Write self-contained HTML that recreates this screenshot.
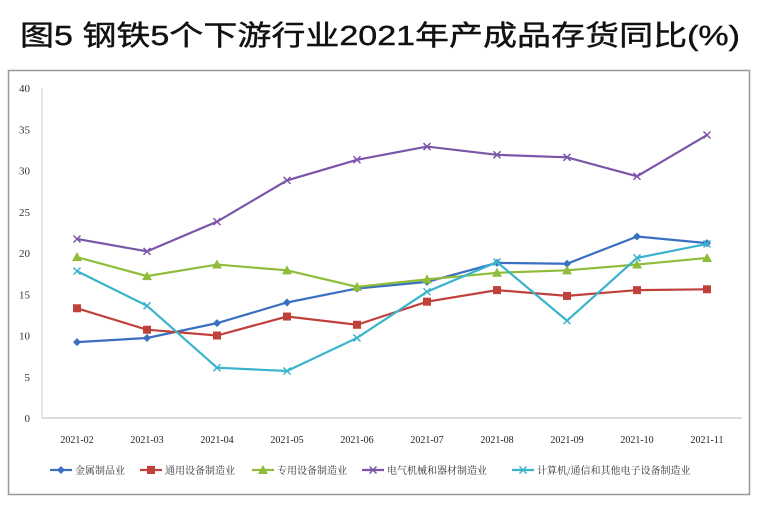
<!DOCTYPE html>
<html><head><meta charset="utf-8"><style>
body{margin:0;background:#fff;width:758px;height:501px;overflow:hidden;font-family:"Liberation Sans","Noto Sans CJK SC",sans-serif}
</style></head><body>
<svg id="s" width="758" height="501" xmlns="http://www.w3.org/2000/svg">
<text x="20" y="45" textLength="720" lengthAdjust="spacingAndGlyphs" font-family="Liberation Sans, Noto Sans CJK SC, sans-serif" font-size="28" fill="#111" stroke="#111" stroke-width="0.4">图5  钢铁5个下游行业2021年产成品存货同比(%)</text>
<rect x="8.5" y="70.5" width="741" height="424" fill="#fff" stroke="#999" stroke-width="1.5"/>
</svg>
<script>
const s=document.getElementById('s'),NS='http://www.w3.org/2000/svg';
function el(t,a,txt){const e=document.createElementNS(NS,t);for(const k in a)e.setAttribute(k,a[k]);if(txt!==undefined)e.textContent=txt;s.appendChild(e);return e;}
const Y=v=>418-v*8.25, X=i=>77+70*i;
for(let v=0;v<=40;v+=5){el('text',{x:30,y:Y(v)+4,'text-anchor':'end','font-size':11,fill:'#333','font-family':'Liberation Serif, serif'},v);}
el('line',{x1:42,y1:418,x2:742,y2:418,stroke:'#bbb'});
el('line',{x1:42,y1:88,x2:42,y2:418,stroke:'#ccc'});
const labs=['2021-02','2021-03','2021-04','2021-05','2021-06','2021-07','2021-08','2021-09','2021-10','2021-11'];
labs.forEach((l,i)=>el('text',{x:X(i),y:443,'text-anchor':'middle','font-size':10,fill:'#222','font-family':'Liberation Serif, serif'},l));
const ser=[
['#3a70c0','d',[9.2,9.7,11.5,14,15.7,16.5,18.8,18.7,22,21.2]],
['#c0403a','s',[13.3,10.7,10,12.3,11.3,14.1,15.5,14.8,15.5,15.6]],
['#8fbc3a','t',[19.5,17.2,18.6,17.9,15.9,16.8,17.6,17.9,18.6,19.4]],
['#7a55a8','x',[21.7,20.2,23.8,28.8,31.3,32.9,31.9,31.6,29.3,34.3]],
['#3ab4cc','x',[17.8,13.6,6.1,5.7,9.7,15.3,18.9,11.8,19.4,21.1]]];
function mark(c,m,x,y){
 if(m=='d')el('path',{d:`M${x} ${y-4}L${x+4} ${y}L${x} ${y+4}L${x-4} ${y}Z`,fill:c});
 else if(m=='s')el('rect',{x:x-4,y:y-4,width:8,height:8,fill:c});
 else if(m=='t')el('path',{d:`M${x} ${y-5}L${x+5} ${y+4}L${x-5} ${y+4}Z`,fill:c});
 else el('path',{d:`M${x-3.5} ${y-3.5}L${x+3.5} ${y+3.5}M${x+3.5} ${y-3.5}L${x-3.5} ${y+3.5}`,stroke:c,'stroke-width':1.5});
}
ser.forEach(([c,m,d])=>{
 el('polyline',{points:d.map((v,i)=>X(i)+','+Y(v)).join(' '),fill:'none',stroke:c,'stroke-width':2.2});
 d.forEach((v,i)=>mark(c,m,X(i),Y(v)));
});
const leg=[['金属制品业',50],['通用设备制造业',140],['专用设备制造业',252],['电气机械和器材制造业',362],['计算机/通信和其他电子设备制造业',512]];
leg.forEach(([t,x],i)=>{const [c,m]=ser[i];
 el('line',{x1:x,y1:470,x2:x+22,y2:470,stroke:c,'stroke-width':2.2});mark(c,m,x+11,470);
 el('text',{x:x+25,y:474,'font-size':10,fill:'#333','font-family':'Noto Serif CJK SC, serif'},t);});
</script>
</body></html>
